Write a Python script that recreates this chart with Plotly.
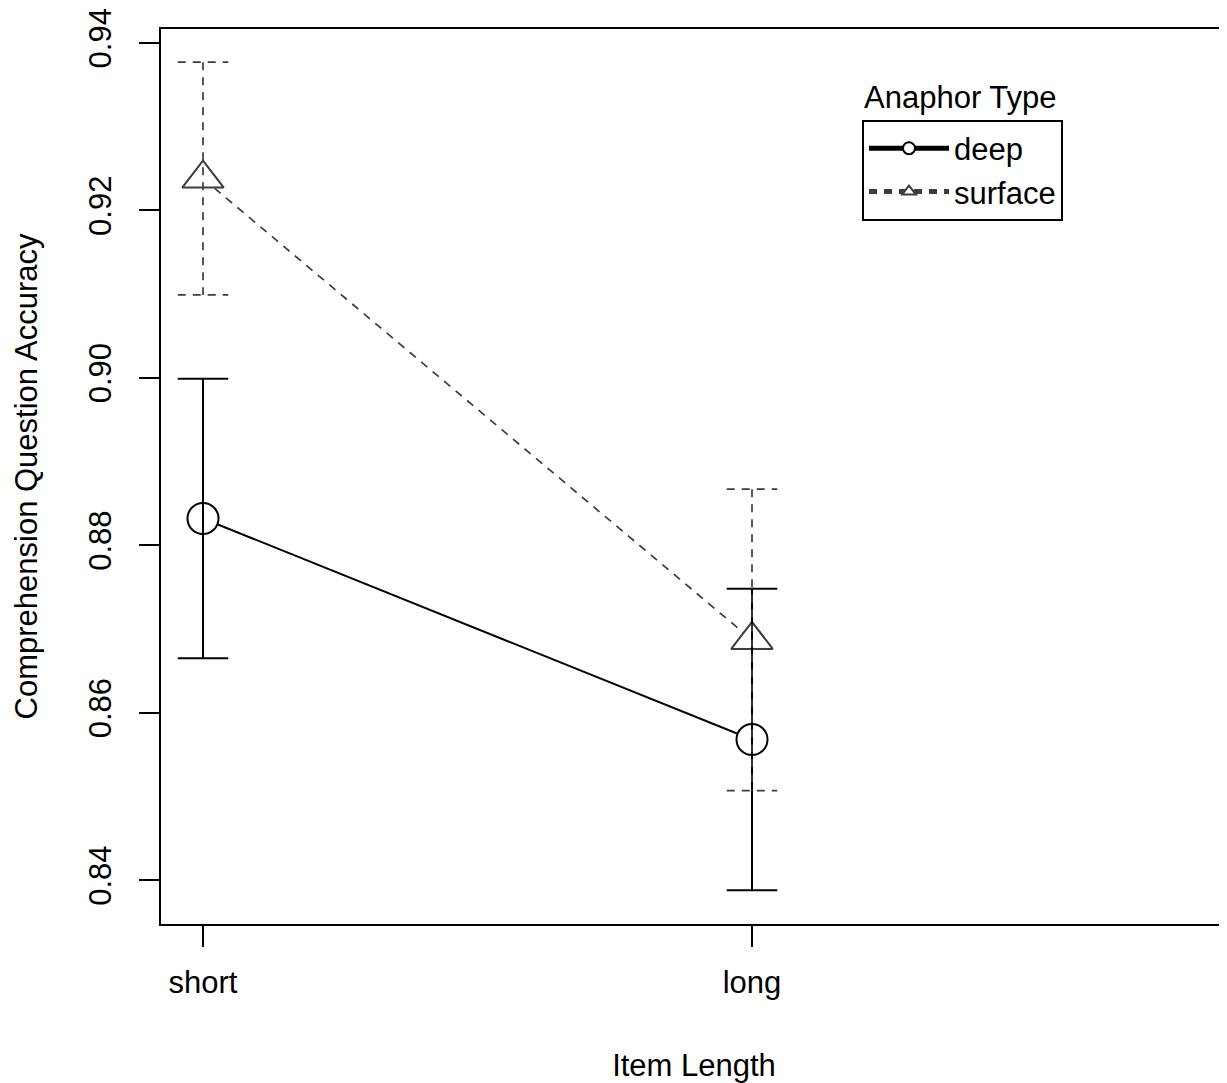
import plotly.graph_objects as go

# ---- data ----
categories = ["short", "long"]
x_pos = [1, 2]
deep_mean = [0.8832, 0.8568]
deep_ci = [0.0167, 0.0180]
surface_mean = [0.9238, 0.8687]
surface_ci = [0.0139, 0.0180]
y_ticks = [0.84, 0.86, 0.88, 0.90, 0.92, 0.94]
y_ticktext = ["0.84", "0.86", "0.88", "0.90", "0.92", "0.94"]

FONT = "Liberation Sans, Arial, Helvetica, sans-serif"
FS = 31
CAP = 0.046  # half-width of error-bar caps (x units)

deep_style = dict(color="black", width=2)
surf_style = dict(color="#3c3c3c", width=1.7, dash="8px,7px")


def errbar_xy(xs, means, cis):
    ex, ey = [], []
    for x, m, c in zip(xs, means, cis):
        hi, lo = m + c, m - c
        ex += [x - CAP, x + CAP, None, x, x, None, x - CAP, x + CAP, None]
        ey += [hi, hi, None, hi, lo, None, lo, lo, None]
    return ex, ey


fig = go.Figure()

fig.add_trace(go.Scatter(
    x=x_pos, y=deep_mean, mode="lines+markers", name="deep",
    line=deep_style,
    marker=dict(symbol="circle", size=31, color="white",
                line=dict(color="black", width=2)),
))
fig.add_trace(go.Scatter(
    x=x_pos, y=surface_mean, mode="lines+markers", name="surface",
    line=surf_style,
    marker=dict(symbol="triangle-up", size=36, color="white",
                line=dict(color="#3c3c3c", width=2)),
))

ex, ey = errbar_xy(x_pos, deep_mean, deep_ci)
fig.add_trace(go.Scatter(x=ex, y=ey, mode="lines", line=deep_style,
                         showlegend=False, hoverinfo="skip"))
ex, ey = errbar_xy(x_pos, surface_mean, surface_ci)
fig.add_trace(go.Scatter(x=ex, y=ey, mode="lines", line=surf_style,
                         showlegend=False, hoverinfo="skip"))

# page body has an 8px margin: figure is 8px smaller and margins shifted
fig.update_layout(
    width=1219, height=1075,
    margin=dict(l=153, r=0, t=20, b=156),
    paper_bgcolor="white", plot_bgcolor="white",
    font=dict(family=FONT, size=FS, color="black"),
    showlegend=True,
    legend=dict(
        x=0.6576, y=0.8988, xanchor="left", yanchor="top",
        bordercolor="black", borderwidth=2, bgcolor="white",
        font=dict(family=FONT, size=FS, color="black"),
        itemsizing="constant", itemwidth=80,
        tracegroupgap=0,
    ),
    annotations=[dict(
        text="Anaphor Type", xref="paper", yref="paper",
        x=0.6576, y=0.9234, xanchor="left", yanchor="middle",
        showarrow=False, font=dict(family=FONT, size=FS, color="black"),
    )],
)

fig.update_xaxes(
    range=[0.9235, 2.8652],
    tickmode="array", tickvals=x_pos, ticktext=categories,
    ticks="outside", ticklen=21, tickwidth=2, tickcolor="black",
    showline=True, linecolor="black", linewidth=2, mirror=True,
    showgrid=False, zeroline=False,
    ticklabelstandoff=9,
    ticklabeloverflow="allow",
    title=dict(text="Item Length", font=dict(family=FONT, size=FS), standoff=61),
)
fig.update_yaxes(
    range=[0.83477, 0.94166],
    tickmode="array", tickvals=y_ticks, ticktext=y_ticktext,
    tickangle=-90,
    ticks="outside", ticklen=20, tickwidth=2, tickcolor="black",
    showline=True, linecolor="black", linewidth=2, mirror=False,
    showgrid=False, zeroline=False,
    ticklabelstandoff=16,
    ticklabeloverflow="allow",
    title=dict(text="Comprehension Question Accuracy",
               font=dict(family=FONT, size=FS), standoff=36),
)

fig.write_html("out.html")
